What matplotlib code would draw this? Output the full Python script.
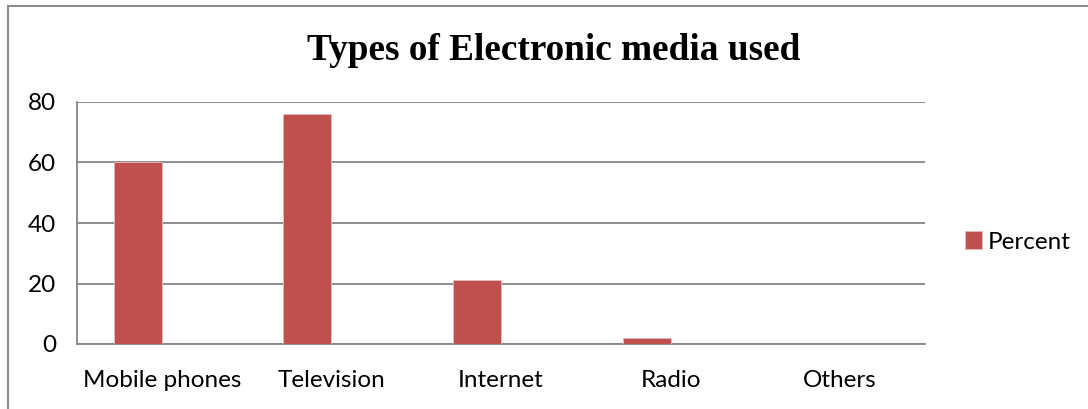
import matplotlib.pyplot as plt
import numpy as np

categories = ['Mobile phones', 'Television', 'Internet', 'Radio', 'Others']
percent = [60, 76, 21, 2, 0]
yticks = [0, 20, 40, 60, 80]

W, H = 1088, 409
fig = plt.figure(figsize=(W / 100, H / 100), dpi=100)

# plot area in pixel coords: left 77, right 925, top 102, bottom 344
ax = fig.add_axes([77 / W, 1 - 344 / H, (925 - 77) / W, (344 - 102) / H])

bar_color = '#C0504D'
grid_color = '#868686'
x = np.arange(len(categories))
bw = 0.283
ax.bar(x - bw / 2, percent, width=bw, color=bar_color, edgecolor='#E6B9B8',
       linewidth=0.6, label='Percent', zorder=3)

ax.set_xlim(-0.5, len(categories) - 0.5)
ax.set_ylim(0, 80)
ax.set_yticks(yticks)
ax.yaxis.grid(True, color=grid_color, linewidth=1.3, zorder=0)
ax.set_xticks(x)
ax.set_xticklabels(categories)
ax.tick_params(axis='both', length=0, labelsize=17.5, colors='black')
ax.tick_params(axis='x', pad=19)
ax.tick_params(axis='y', pad=15)
for lab in ax.get_xticklabels() + ax.get_yticklabels():
    lab.set_fontfamily('Lato')

for s in ['top', 'right']:
    ax.spines[s].set_visible(False)
for s in ['left', 'bottom']:
    ax.spines[s].set_color(grid_color)
    ax.spines[s].set_linewidth(1.3)

fig.text(554 / W, 1 - 51 / H, 'Types of Electronic media used',
         ha='center', va='center', fontsize=26.8, fontweight='bold',
         family='Liberation Serif')

leg = fig.legend(loc='center left', bbox_to_anchor=(943 / W, 1 - 242 / H),
                 frameon=False, handlelength=0.7, handleheight=0.7,
                 handletextpad=0.25, prop={'family': 'Lato', 'size': 17.5})

# outer chart border (top and left only visible)
fig.add_artist(plt.Line2D([8 / W, 8 / W], [0, 1 - 6 / H], color='#8C8C8C',
                          linewidth=1.5, transform=fig.transFigure))
fig.add_artist(plt.Line2D([8 / W, 1], [1 - 6 / H, 1 - 6 / H], color='#8C8C8C',
                          linewidth=1.5, transform=fig.transFigure))

fig.savefig('out.png', dpi=100)
